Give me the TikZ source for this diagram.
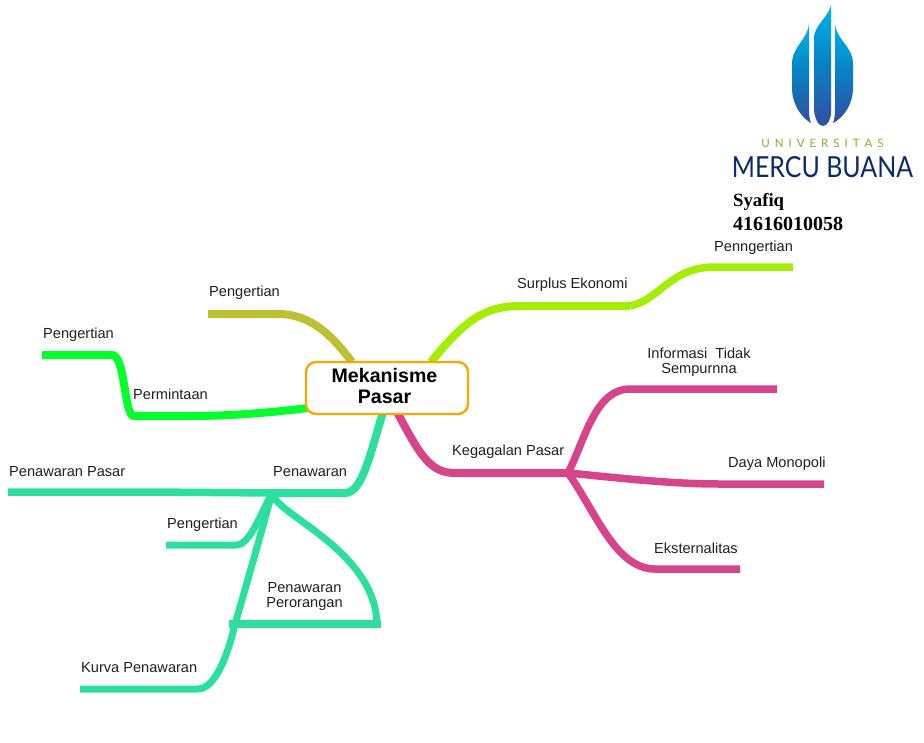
\documentclass[tikz,border=0pt]{standalone}
\usepackage{fontspec}
\setmainfont{Liberation Sans}
\newfontfamily\serifbold{Liberation Serif}[Scale=1]
\newfontfamily\logofont{Lato}
\usetikzlibrary{backgrounds}
\definecolor{olivec}{HTML}{BDC032}
\definecolor{limec}{HTML}{A3EE04}
\definecolor{greenc}{HTML}{04FF2C}
\definecolor{tealc}{HTML}{2CDF9E}
\definecolor{pinkc}{HTML}{D6458B}
\definecolor{orangec}{HTML}{FFA500}
\definecolor{navyc}{HTML}{0B2A6B}
\definecolor{unic}{HTML}{7DB52E}
\definecolor{flamet}{HTML}{00BEF2}
\definecolor{flamem}{HTML}{0684C6}
\definecolor{flameb}{HTML}{2C55A4}
\pgfdeclareverticalshading{flameshade}{100bp}{color(0bp)=(flameb); color(28bp)=(flameb); color(52bp)=(flamem); color(80bp)=(flamet); color(100bp)=(flamet)}
\tikzset{
  branch/.style={line width=8pt, line cap=butt, line join=round},
  twig/.style={line width=7.5pt, line cap=butt, line join=round},
  lbl/.style={font=\fontsize{14.6}{15}\selectfont, text=black!88, inner sep=0pt, align=center},
  flame/.style={shading=flameshade},
}
\begin{document}
\begin{tikzpicture}[x=1pt,y=-1pt]
\useasboundingbox (0,0) rectangle (924,742);

% central topic
\node[draw=orangec, line width=2.4pt, rounded corners=10pt, fill=white, minimum width=162pt, minimum height=52pt, inner sep=0pt] (root) at (387,388) {};
\node[font=\bfseries\fontsize{19.6}{20.5}\selectfont, align=center, inner sep=0pt, text=black] (rootlabel) at (384.5,386) {Mekanisme\\ Pasar};

% labels
\node[lbl, anchor=west] (lpeng1) at (209,293) {Pengertian};
\node[lbl, anchor=west] (lpeng2) at (43,335) {Pengertian};
\node[lbl, anchor=west] (lminta) at (133,394) {Permintaan};
\node[lbl, anchor=west] (lpasar) at (9,472) {Penawaran Pasar};
\node[lbl, anchor=west] (lpenaw) at (273,472) {Penawaran};
\node[lbl, anchor=west] (lpeng3) at (167,525) {Pengertian};
\node[lbl] (lorang) at (304.5,596) {Penawaran\\Perorangan};
\node[lbl, anchor=west] (lkurva) at (81,668) {Kurva Penawaran};
\node[lbl, anchor=west] (lsurp) at (517,285) {Surplus Ekonomi};
\node[lbl, anchor=west] (lpenng) at (714,248) {Penngertian};
\node[lbl] (linfo) at (699,362) {Informasi~ Tidak\\Sempurnna};
\node[lbl, anchor=west] (lgagal) at (452,452) {Kegagalan Pasar};
\node[lbl, anchor=west] (lmono) at (728,464) {Daya Monopoli};
\node[lbl, anchor=west] (leks) at (654,548) {Eksternalitas};

% junctions and free ends
\coordinate (a1) at (352,362);
\coordinate (e1) at (208,314);
\coordinate (a2) at (308,408);
\coordinate (j2) at (133,416);
\coordinate (e2) at (42,355);
\coordinate (a3) at (383,412);
\coordinate (j3) at (272,493);
\coordinate (e3) at (8,492);
\coordinate (e4) at (166,545);
\coordinate (j5) at (229,624);
\coordinate (e5) at (381,624);
\coordinate (e6) at (80,689);
\coordinate (a4) at (431,362);
\coordinate (j4) at (630,306);
\coordinate (e7) at (793,267);
\coordinate (a5) at (397,412);
\coordinate (j6) at (568,473);
\coordinate (e8) at (777,389);
\coordinate (e9) at (824,484);
\coordinate (e10) at (740,569);

\begin{scope}[on background layer]
  % olive
  \draw[branch, color=olivec] (e1) -- (278,314) .. controls (312,314) and (333,337) .. (a1);
  % bright green
  \draw[branch, color=greenc] (e2) -- (112,355) .. controls (125,355) and (124,412) .. (j2) -- (190,416) .. controls (235,416) and (275,412) .. (a2);
  % teal
  \draw[branch, color=tealc] (a3) .. controls (370,455) and (362,493) .. (345,493) -- (j3);
  \draw[twig, color=tealc] (j3) -- (150,492) -- (e3);
  \draw[line width=7pt, color=tealc] (j3) .. controls (260,515) and (250,545) .. (236,545) -- (e4);
  \draw[line width=7pt, color=tealc] (j3) .. controls (262,530) and (245,590) .. (235,624) .. controls (228,655) and (215,689) .. (198,689) -- (e6);
  \draw[line width=7pt, color=tealc] (j3) .. controls (276,515) and (375,550) .. (377,624);
  \draw[twig, color=tealc] (j5) -- (e5);
  % lime
  \draw[branch, color=limec] (a4) .. controls (465,320) and (485,306) .. (520,306) -- (j4);
  \draw[twig, color=limec] (j4) .. controls (660,300) and (670,267) .. (715,267) -- (e7);
  % pink
  \draw[branch, color=pinkc] (a5) .. controls (420,455) and (430,473) .. (455,473) -- (j6);
  \draw[twig, color=pinkc] (j6) .. controls (585,440) and (595,389) .. (630,389) -- (e8);
  \draw[twig, color=pinkc] (j6) .. controls (620,478) and (670,484) .. (720,484) -- (e9);
  \draw[twig, color=pinkc] (j6) .. controls (595,510) and (615,569) .. (655,569) -- (e10);
\end{scope}

% logo
\path[flame]
  (831,5) .. controls (829,16) and (814,26) .. (814,38) -- (814,106) .. controls (814,118) and (818,126) .. (823,126) .. controls (827,126) and (831,120) .. (831,112) -- cycle;
\path[flame]
  (809,23) .. controls (808,40) and (792,46) .. (792,64) -- (792,88) .. controls (792,105) and (802,118) .. (811,123) .. controls (809,118) and (809,112) .. (809,106) -- cycle;
\path[flame]
  (835,23) .. controls (836,40) and (853,46) .. (853,64) -- (853,88) .. controls (853,105) and (843,118) .. (833,123) .. controls (835,118) and (835,112) .. (835,106) -- cycle;
\node[inner sep=0pt, text=unic, font=\logofont\fontsize{11.5}{12}\selectfont] (uni) at (822.5,143.5) {U\hspace{5pt}N\hspace{5pt}I\hspace{5pt}V\hspace{5pt}E\hspace{5pt}R\hspace{5pt}S\hspace{5pt}I\hspace{5pt}T\hspace{5pt}A\hspace{5pt}S};
\node[inner sep=0pt, text=navyc, font=\logofont\fontsize{29}{30}\selectfont, xscale=0.86] (mercu) at (822.5,167) {MERCU BUANA};
\node[inner sep=0pt, anchor=west, font=\serifbold\bfseries\fontsize{18.7}{20}\selectfont] (name) at (733,202) {Syafiq};
\node[inner sep=0pt, anchor=west, font=\serifbold\bfseries\fontsize{20}{21}\selectfont] (nim) at (733,224) {41616010058};
\end{tikzpicture}
\end{document}
